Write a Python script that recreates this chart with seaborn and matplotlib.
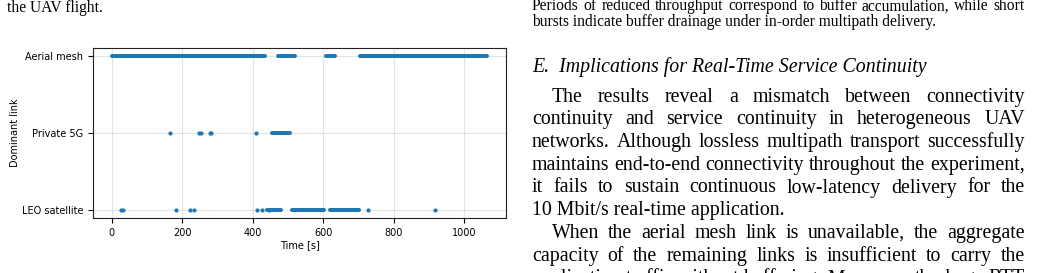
import numpy as np
import pandas as pd
import matplotlib
matplotlib.use("Agg")
import matplotlib.pyplot as plt
import seaborn as sns

# ---------------- data ----------------
categories = ["LEO satellite", "Private 5G", "Aerial mesh"]

# continuous runs where a link is dominant (start / end time in s)
aerial_run_start = [0, 471, 608, 705]
aerial_run_end = [435, 519, 633, 1066]
p5g_run_start = [455]
p5g_run_end = [507]
leo_run_start = [441, 512, 619]
leo_run_end = [481, 602, 702]

# isolated samples (time in s)
aerial_points = []
p5g_points = [165, 249, 252, 280, 283, 410]
leo_points = [27, 31, 182, 221, 234, 411, 426, 445, 726, 918]

x_ticks = [0, 200, 400, 600, 800, 1000]

# ---------------- build tables ----------------
run_rows = []
rid = 0
for name, starts, ends in [("Aerial mesh", aerial_run_start, aerial_run_end),
                           ("Private 5G", p5g_run_start, p5g_run_end),
                           ("LEO satellite", leo_run_start, leo_run_end)]:
    code = categories.index(name)
    for s, e in zip(starts, ends):
        run_rows.append({"time": s, "link": code, "run": rid})
        run_rows.append({"time": e, "link": code, "run": rid})
        rid += 1
runs = pd.DataFrame(run_rows)

pt_rows = []
for name, pts in [("Aerial mesh", aerial_points), ("Private 5G", p5g_points),
                  ("LEO satellite", leo_points)]:
    code = categories.index(name)
    for t in pts:
        pt_rows.append({"time": t, "link": code})
points = pd.DataFrame(pt_rows)

# ---------------- figure ----------------
W, H = 1043, 273
fig = plt.figure(figsize=(W / 100, H / 100), dpi=100)
fig.patch.set_facecolor("white")

ax = fig.add_axes([93 / W, 55 / H, 413 / W, 170 / H])
blue = "#1f77b4"

sns.lineplot(data=runs, x="time", y="link", units="run", estimator=None,
             sort=False, color=blue, linewidth=2.9, solid_capstyle="round",
             ax=ax, legend=False)
sns.scatterplot(data=points, x="time", y="link", color=blue, s=9,
                linewidth=0, ax=ax, legend=False)

ax.set_xlim(-53.3, 1119)
ax.set_ylim(-0.1, 2.1)
ax.set_yticks(range(len(categories)))
ax.set_yticklabels(categories)
ax.set_xticks(x_ticks)
ax.set_xticklabels([str(v) for v in x_ticks])
ax.tick_params(labelsize=7, length=3.5, width=0.8)
ax.set_xlabel("Time [s]", fontsize=7, labelpad=1.5)
ax.set_ylabel("Dominant link", fontsize=7, labelpad=1.5)
ax.grid(True, color="#b0b0b0", alpha=0.35, linewidth=0.8)
ax.set_axisbelow(True)
for sp in ax.spines.values():
    sp.set_linewidth(0.8)
    sp.set_color("#222222")

# ---------------- surrounding page text ----------------
renderer = fig.canvas.get_renderer()
serif = "Liberation Serif"


def word_width(word, size, style="normal"):
    t = fig.text(0, 0, word, fontsize=size, family=serif, style=style)
    w = t.get_window_extent(renderer).width
    t.remove()
    return w


def put_line(text, x0, x1, y, size, justify=True, style="normal"):
    if not justify:
        fig.text(x0 / W, 1 - y / H, text, fontsize=size, family=serif,
                 style=style, va="baseline", ha="left")
        return
    words = text.split(" ")
    widths = [word_width(w, size, style) for w in words]
    gap = (x1 - x0 - sum(widths)) / max(len(words) - 1, 1)
    x = x0
    for w, wd in zip(words, widths):
        fig.text(x / W, 1 - y / H, w, fontsize=size, family=serif,
                 style=style, va="baseline", ha="left")
        x += wd + gap


cap_size = 11.2
body_size = 14.3
xl, xr, indent = 532, 1025, 552

put_line("the UAV flight.", 7, 0, 12, cap_size, justify=False)

put_line("Periods of reduced throughput correspond to buffer accumulation, while short",
         xl, xr, 10.5, cap_size)
put_line("bursts indicate buffer drainage under in-order multipath delivery.",
         xl, xr, 25.5, cap_size, justify=False)

put_line("E.  Implications for Real-Time Service Continuity", xl, xr, 71.7,
         body_size, justify=False, style="italic")

para1 = ["The results reveal a mismatch between connectivity",
         "continuity and service continuity in heterogeneous UAV",
         "networks. Although lossless multipath transport successfully",
         "maintains end-to-end connectivity throughout the experiment,",
         "it fails to sustain continuous low-latency delivery for the",
         "10 Mbit/s real-time application."]
para2 = ["When the aerial mesh link is unavailable, the aggregate",
         "capacity of the remaining links is insufficient to carry the",
         "application traffic without buffering. Moreover, the large RTT"]

y = 101.7
step = 22.7
for i, line in enumerate(para1):
    x0 = indent if i == 0 else xl
    put_line(line, x0, xr, y, body_size, justify=(i < len(para1) - 1))
    y += step
for i, line in enumerate(para2):
    x0 = indent if i == 0 else xl
    put_line(line, x0, xr, y, body_size, justify=True)
    y += step

fig.savefig("out.png", dpi=100, facecolor="white")
